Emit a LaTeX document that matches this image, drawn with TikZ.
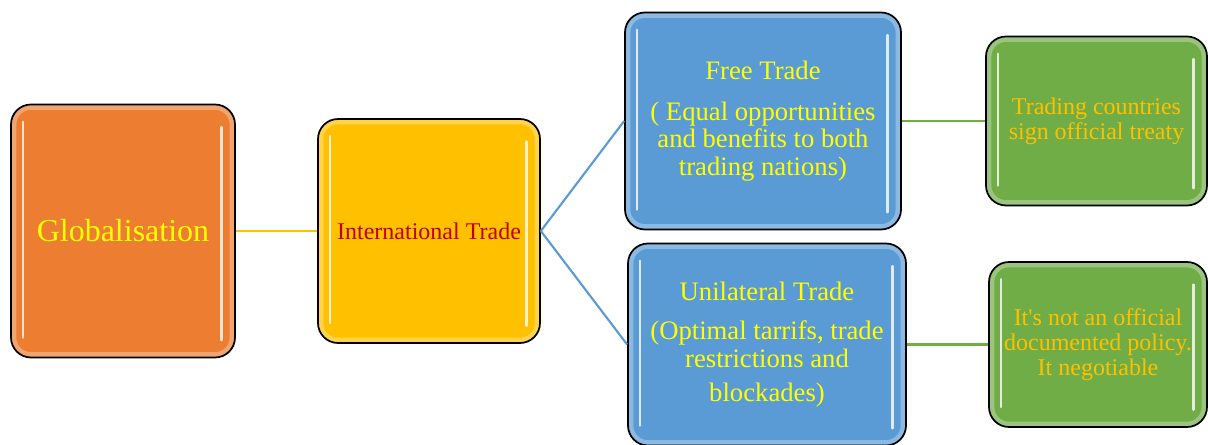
\documentclass[tikz,border=0pt]{standalone}
\usepackage{fontspec}
\setmainfont{Liberation Serif}
\definecolor{cOrange}{HTML}{ED7D31}
\definecolor{cGold}{HTML}{FFC000}
\definecolor{cBlue}{HTML}{5B9BD5}
\definecolor{cGreen}{HTML}{70AD47}
\definecolor{cRed}{HTML}{C00000}
\definecolor{cYellow}{HTML}{FFFF00}
\tikzset{
  glossy/.style={path picture={
    \draw[white, opacity=0.3, line width=4pt, rounded corners=13pt]
      ([xshift=2pt,yshift=-2pt]path picture bounding box.north west) rectangle
      ([xshift=-2pt,yshift=2pt]path picture bounding box.south east);
    \draw[white, opacity=0.8, line width=2pt, line cap=round]
      ([xshift=9pt,yshift=-13pt]path picture bounding box.north west) --
      ([xshift=9pt,yshift=15pt]path picture bounding box.south west);
    \draw[white, opacity=0.8, line width=2pt, line cap=round]
      ([xshift=-10pt,yshift=-17pt]path picture bounding box.north east) --
      ([xshift=-10pt,yshift=13pt]path picture bounding box.south east);
  }},
  card/.style={draw=black, line width=1.3pt, rounded corners=15pt, align=center,
    inner sep=2pt, glossy},
  link/.style={line width=1.6pt},
}
\begin{document}
\begin{tikzpicture}[x=0.75pt,y=-0.75pt]
\useasboundingbox (0,0) rectangle (1208,445);
% boxes
\node[card, fill=cOrange, minimum width=168pt, minimum height=189.75pt,
      text=cYellow, font=\fontsize{24}{26}\selectfont] (glob) at (123,231) {Globalisation};
\node[card, fill=cGold, minimum width=166.5pt, minimum height=168pt,
      text=cRed, font=\fontsize{18}{20}\selectfont] (intl) at (429,231) {International Trade};
\node[card, fill=cBlue, minimum width=207pt, minimum height=162.75pt,
      text=cYellow, font=\fontsize{20}{20.5}\selectfont] (free) at (763,121)
      {Free Trade\\[10pt]( Equal opportunities\\and benefits to both\\trading nations)};
\node[card, fill=cBlue, minimum width=208.5pt, minimum height=151.5pt,
      text=cYellow, font=\fontsize{20}{20.5}\selectfont] (uni) at (767,344.5)
      {Unilateral Trade\\[9pt](Optimal tarrifs, trade\\restrictions and\\[5pt]blockades)};
\node[card, fill=cGreen, minimum width=165.75pt, minimum height=126.75pt,
      text=cGold, font=\fontsize{18}{19}\selectfont] (g1) at (1096.5,121)
      {Trading countries\\sign official treaty};
\node[card, fill=cGreen, minimum width=163.5pt, minimum height=123.75pt,
      text=cGold, font=\fontsize{18}{19}\selectfont] (g2) at (1098,344.5)
      {It\textquotesingle s not an official\\documented policy.\\It negotiable};
% connectors
\draw[link, cGold] (glob.east) -- (intl.west);
\draw[link, cBlue] (intl.east) -- (free.west);
\draw[link, cBlue] (intl.east) -- (uni.west);
\draw[link, cGreen] (free.east) -- (g1.west);
\draw[link, cGreen] (uni.east) -- (g2.west);
\end{tikzpicture}
\end{document}
